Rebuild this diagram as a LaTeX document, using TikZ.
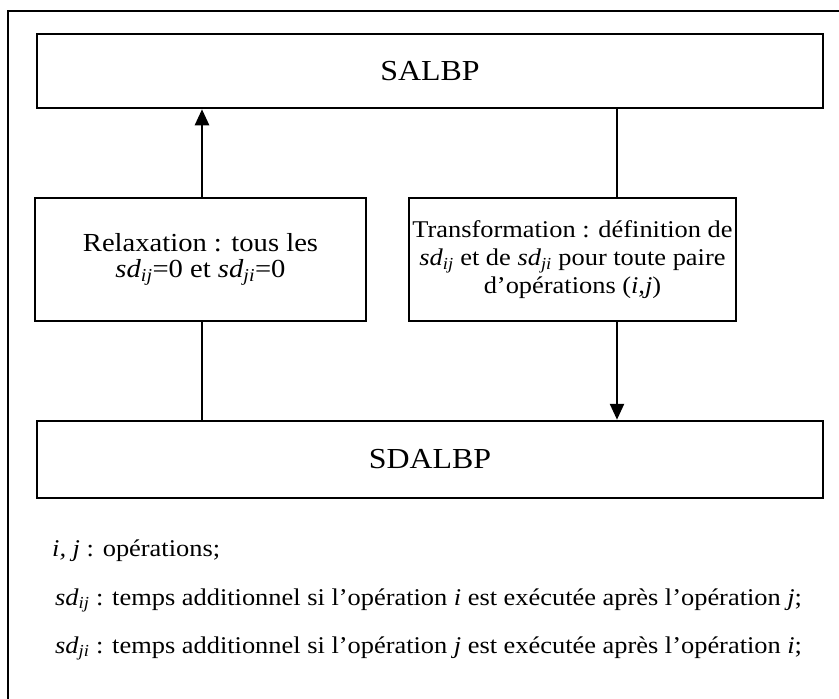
\documentclass[tikz,border=0pt]{standalone}
\usepackage{fontspec}
\setmainfont{Liberation Serif}[FakeStretch=1.1]
\usetikzlibrary{arrows.meta}
\newcommand{\sdsub}[1]{\textit{sd}\textsubscript{\textit{#1}}}
\begin{document}
\begin{tikzpicture}[x=1pt,y=-1pt,
  box/.style={draw,line width=2.5pt,inner sep=0pt,align=center},
  link/.style={line width=2.5pt},
  arr/.style={line width=2.5pt,-{Triangle[width=14pt,length=16pt]}},
  legend/.style={anchor=base west,inner sep=0pt,font=\fontsize{24}{26}\selectfont}]
\useasboundingbox (0,0) rectangle (839,699);
\clip (0,0) rectangle (839,699);
% outer frame, running off the right and bottom edges
\draw[line width=2.5pt] (8,711) -- (8,11) -- (851,11);
% boxes
\node[box,minimum width=786pt,minimum height=74pt,font=\fontsize{29}{30}\selectfont]
  (salbp) at (430,71) {SALBP};
\node[box,minimum width=331pt,minimum height=123pt,font=\fontsize{26}{26}\selectfont]
  (relax) at (200.5,259.5) {Relaxation : tous les\\\sdsub{ij}=0 et \sdsub{ji}=0};
\node[box,minimum width=327pt,minimum height=123pt,font=\fontsize{24}{28}\selectfont]
  (transf) at (572.5,259.5) {Transformation : définition de\\\sdsub{ij} et de \sdsub{ji} pour toute paire\\d’opérations (\textit{i,j})};
\node[box,minimum width=786pt,minimum height=77pt,font=\fontsize{29}{30}\selectfont]
  (sdalbp) at (430,459.5) {SDALBP};
% vertical connectors
\coordinate (lx) at (202,0);
\coordinate (rx) at (617,0);
\draw[arr] (relax.north -| lx) -- (salbp.south -| lx);
\draw[link] (sdalbp.north -| lx) -- (relax.south -| lx);
\draw[link] (salbp.south -| rx) -- (transf.north -| rx);
\draw[arr] (transf.south -| rx) -- (sdalbp.north -| rx);
% legend
\node[legend] (l1) at (52,556) {\textit{i, j} : opérations;};
\node[legend] (l2) at (55,605) {\sdsub{ij} : temps additionnel si l’opération \textit{i} est exécutée après l’opération \textit{j};};
\node[legend] (l3) at (55,653) {\sdsub{ji} : temps additionnel si l’opération \textit{j} est exécutée après l’opération \textit{i};};
\end{tikzpicture}
\end{document}
